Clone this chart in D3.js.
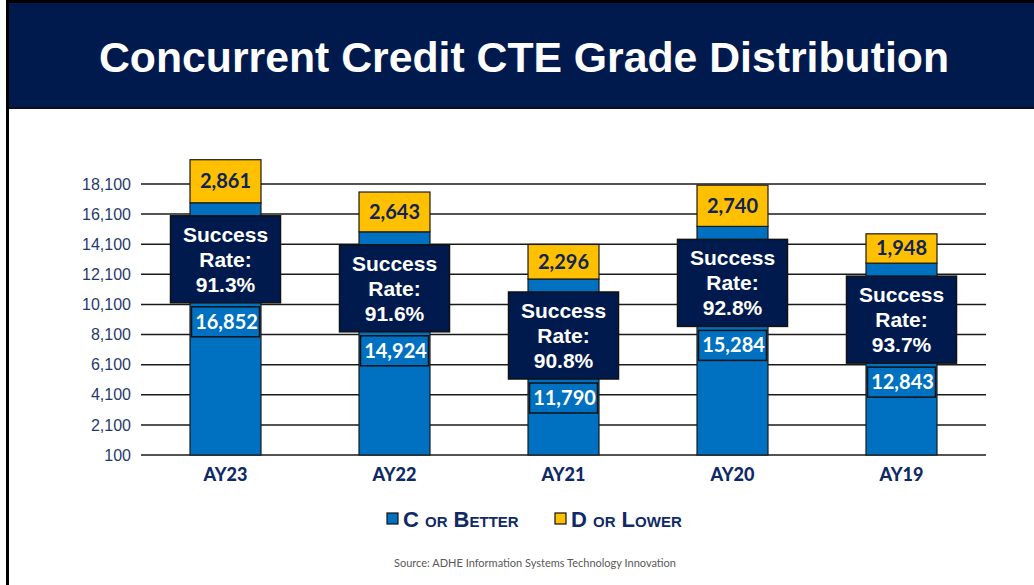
<!DOCTYPE html>
<html>
<head>
<meta charset="utf-8">
<script src="https://cdn.jsdelivr.net/npm/d3@7"></script>
<style>
	body { margin: 0; background: #fff; }
	svg { display: block; }
</style>
</head>
<body>
<div id="chart"></div>
<script>
// chart data
var years = ["AY23", "AY22", "AY21", "AY20", "AY19"];
var cOrBetter = [16852, 14924, 11790, 15284, 12843];
var dOrLower = [2861, 2643, 2296, 2740, 1948];
var successRate = ["91.3%", "91.6%", "90.8%", "92.8%", "93.7%"];
var yTicks = [100, 2100, 4100, 6100, 8100, 10100, 12100, 14100, 16100, 18100];

var W = 1034, H = 585;
var navy = "#011a4d";
var blue = "#0070c0";
var gold = "#ffc000";
var textNavy = "#1f3a6e";

var svg = d3.select("#chart")
	.append("svg")
	.attr("width", W)
	.attr("height", H);

// slide frame + title band
svg.append("rect").attr("x", 0).attr("y", 0).attr("width", W).attr("height", H).style("fill", "#fff");
svg.append("rect").attr("x", 6).attr("y", 0).attr("width", 3).attr("height", H).style("fill", "#000");
svg.append("rect").attr("x", 9).attr("y", 0).attr("width", W - 9).attr("height", 3).style("fill", "#000");
svg.append("rect").attr("x", 9).attr("y", 3).attr("width", W - 9).attr("height", 105).style("fill", navy);
svg.append("rect").attr("x", 9).attr("y", 107).attr("width", W - 9).attr("height", 2).style("fill", "#0a0f1e");

svg.append("text")
	.attr("x", 524)
	.attr("y", 72)
	.attr("text-anchor", "middle")
	.attr("textLength", 850)
	.attr("lengthAdjust", "spacingAndGlyphs")
	.style("font-family", "'Liberation Sans', Arial, sans-serif")
	.style("font-weight", "bold")
	.style("font-size", "42px")
	.style("fill", "#fff")
	.text("Concurrent Credit CTE Grade Distribution");

// scales
var x = d3.scaleBand()
	.domain(years)
	.range([141, 986])
	.paddingInner(0.58)
	.paddingOuter(0.29);

var y = d3.scaleLinear()
	.domain([100, 18100])
	.range([455, 184]);

// gridlines
svg.append("g").selectAll("line")
	.data(yTicks)
	.enter().append("line")
	.attr("x1", 141)
	.attr("x2", 986)
	.attr("y1", function(d) { return y(d); })
	.attr("y2", function(d) { return y(d); })
	.style("stroke", "#1a1a1a")
	.style("stroke-width", 1.5);

// y axis labels
var yAxis = d3.axisLeft(y)
	.tickValues(yTicks)
	.tickSize(0)
	.tickPadding(10)
	.tickFormat(d3.format(","));

var ya = svg.append("g")
	.attr("transform", "translate(141,0)")
	.call(yAxis);
ya.select(".domain").remove();
ya.selectAll("text")
	.style("font-family", "'Liberation Sans', Arial, sans-serif")
	.style("font-size", "16px")
	.style("fill", textNavy);

var data = years.map(function(d, i) {
	return { year: d, c: cOrBetter[i], d: dOrLower[i], rate: successRate[i] };
});

var bars = svg.append("g").selectAll(".bar")
	.data(data)
	.enter().append("g")
	.attr("class", "bar");

// C or better
bars.append("rect")
	.attr("x", function(d) { return x(d.year); })
	.attr("y", function(d) { return y(d.c); })
	.attr("width", x.bandwidth())
	.attr("height", function(d) { return y(100) - y(d.c); })
	.style("fill", blue)
	.style("stroke", "#1a1a1a")
	.style("stroke-width", 1.2);

// D or lower
bars.append("rect")
	.attr("x", function(d) { return x(d.year); })
	.attr("y", function(d) { return y(d.c + d.d); })
	.attr("width", x.bandwidth())
	.attr("height", function(d) { return y(d.c) - y(d.c + d.d); })
	.style("fill", gold)
	.style("stroke", "#1a1a1a")
	.style("stroke-width", 1.2);

bars.append("text")
	.attr("x", function(d) { return x(d.year) + x.bandwidth() / 2; })
	.attr("y", function(d) { return (y(d.c) + y(d.c + d.d)) / 2 + 7; })
	.attr("text-anchor", "middle")
	.style("font-family", "Lato, 'Open Sans', sans-serif")
	.style("font-weight", "bold")
	.style("font-size", "20px")
	.style("fill", "#0f2456")
	.text(function(d) { return d3.format(",")(d.d); });

// success rate boxes
var boxW = 110, boxH = 87, boxGap = 13;
function boxTop(d) { return y(d.c) + boxGap; }

bars.append("rect")
	.attr("x", function(d) { return x(d.year) + x.bandwidth() / 2 - boxW / 2; })
	.attr("y", boxTop)
	.attr("width", boxW)
	.attr("height", boxH)
	.style("fill", navy)
	.style("stroke", "#111")
	.style("stroke-width", 1.5);

var rateText = bars.append("text")
	.attr("text-anchor", "middle")
	.style("font-family", "'Liberation Sans', Arial, sans-serif")
	.style("font-weight", "bold")
	.style("font-size", "21px")
	.style("fill", "#fff");

rateText.each(function(d) {
	var cx = x(d.year) + x.bandwidth() / 2;
	var top = boxTop(d);
	var t = d3.select(this);
	["Success", "Rate:", d.rate].forEach(function(line, k) {
		t.append("tspan")
			.attr("x", cx)
			.attr("y", top + 26 + k * 25)
			.text(line);
	});
});

// value label boxes
var labW = 68, labH = 30;
bars.append("rect")
	.attr("x", function(d) { return x(d.year) + x.bandwidth() / 2 - labW / 2; })
	.attr("y", function(d) { return boxTop(d) + boxH + 4; })
	.attr("width", labW)
	.attr("height", labH)
	.style("fill", blue)
	.style("stroke", "#111")
	.style("stroke-width", 1.5);

bars.append("text")
	.attr("x", function(d) { return x(d.year) + x.bandwidth() / 2 + 1; })
	.attr("y", function(d) { return boxTop(d) + boxH + 4 + 22; })
	.attr("text-anchor", "middle")
	.style("font-family", "Lato, 'Open Sans', sans-serif")
	.style("font-weight", "bold")
	.style("font-size", "20px")
	.style("fill", "#fff")
	.text(function(d) { return d3.format(",")(d.c); });

// category labels
var xAxis = d3.axisBottom(x).tickSize(0).tickPadding(0);
var xa = svg.append("g")
	.attr("transform", "translate(0,468)")
	.call(xAxis);
xa.select(".domain").remove();
xa.selectAll("text")
	.attr("dy", "0.71em")
	.style("font-family", "Lato, 'Open Sans', sans-serif")
	.style("font-weight", "900")
	.style("font-size", "18px")
	.style("fill", "#0f2a66");

// legend
var legend = [
	{ label: "C or Better", color: blue, x: 387 },
	{ label: "D or Lower", color: gold, x: 555 }
];
var lg = svg.append("g").selectAll("g")
	.data(legend)
	.enter().append("g");
lg.append("rect")
	.attr("x", function(d) { return d.x; })
	.attr("y", 513)
	.attr("width", 11)
	.attr("height", 11)
	.style("fill", function(d) { return d.color; })
	.style("stroke", "#111")
	.style("stroke-width", 1.2);
lg.append("text")
	.attr("x", function(d) { return d.x + 16; })
	.attr("y", 527)
	.style("font-family", "'Liberation Sans', Arial, sans-serif")
	.style("font-weight", "bold")
	.style("font-size", "22px")
	.style("font-variant", "small-caps")
	.style("fill", "#0f2a66")
	.text(function(d) { return d.label; });

// source
svg.append("text")
	.attr("x", 535)
	.attr("y", 567)
	.attr("text-anchor", "middle")
	.style("font-family", "Lato, 'Open Sans', sans-serif")
	.style("font-size", "11px")
	.style("fill", "#595959")
	.text("Source: ADHE Information Systems Technology Innovation");
</script>
</body>
</html>
